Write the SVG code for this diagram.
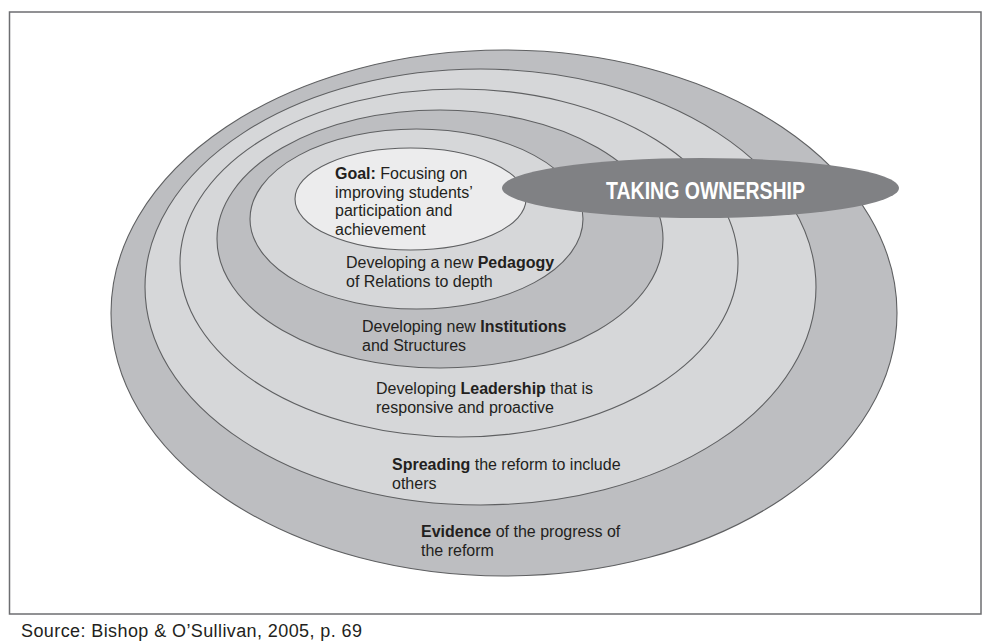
<svg xmlns="http://www.w3.org/2000/svg" width="991" height="644" viewBox="0 0 991 644">
  <style>
    .ring { stroke: #5f6062; stroke-width: 1.1; }
    .dark { fill: #bdbec1; }
    .light { fill: #d6d7d9; }
    .core { fill: #ececed; }
    .lbl { font-family: "Liberation Sans", Arial, sans-serif; font-size: 16px; fill: #231f20; }
    .b { font-weight: bold; }
    .own { font-family: "Liberation Sans Narrow", "Liberation Sans", Arial, sans-serif; font-size: 24px; font-weight: bold; fill: #ffffff; }
    .src { font-family: "Liberation Sans", Arial, sans-serif; font-size: 18px; fill: #231f20; }
  </style>

  <rect width="991" height="644" fill="#ffffff"/>

  <!-- figure frame -->
  <rect x="9.5" y="12" width="971.5" height="602" fill="none" stroke="#6d6e71" stroke-width="1.5"/>

  <g id="evidence">
    <ellipse class="ring dark" cx="504" cy="313" rx="393" ry="263"/>
    <text class="lbl" x="421" y="537"><tspan class="b">Evidence</tspan> of the progress of</text>
    <text class="lbl" x="421" y="555.5">the reform</text>
  </g>

  <g id="spreading">
    <ellipse class="ring light" cx="480.5" cy="287" rx="335.5" ry="218"/>
    <text class="lbl" x="392" y="470"><tspan class="b">Spreading</tspan> the reform to include</text>
    <text class="lbl" x="392" y="488.5">others</text>
  </g>

  <g id="leadership">
    <ellipse class="ring light" cx="459" cy="263" rx="279" ry="174"/>
    <text class="lbl" x="376" y="394"><tspan>Developing </tspan><tspan class="b">Leadership</tspan> that is</text>
    <text class="lbl" x="376" y="412.5">responsive and proactive</text>
  </g>

  <g id="institutions">
    <ellipse class="ring dark" cx="440" cy="239" rx="223" ry="129"/>
    <text class="lbl" x="362" y="332">Developing new <tspan class="b">Institutions</tspan></text>
    <text class="lbl" x="362" y="350.5">and Structures</text>
  </g>

  <g id="pedagogy">
    <ellipse class="ring light" cx="416.5" cy="219" rx="166.5" ry="90"/>
    <text class="lbl" x="346" y="268">Developing a new <tspan class="b">Pedagogy</tspan></text>
    <text class="lbl" x="346" y="286.5">of Relations to depth</text>
  </g>

  <g id="goal">
    <ellipse class="ring core" cx="410.5" cy="199" rx="115.5" ry="51"/>
    <text class="lbl" x="335" y="179"><tspan class="b">Goal:</tspan> Focusing on</text>
    <text class="lbl" x="335" y="197.5">improving students’</text>
    <text class="lbl" x="335" y="216">participation and</text>
    <text class="lbl" x="335" y="234.5">achievement</text>
  </g>

  <g id="taking-ownership">
    <ellipse cx="700.5" cy="188" rx="198.5" ry="30" fill="#808184"/>
    <text class="own" x="606" y="198.5" textLength="199" lengthAdjust="spacingAndGlyphs">TAKING OWNERSHIP</text>
  </g>

  <g id="connectors"/>

  <text class="src" x="21" y="637" textLength="341" lengthAdjust="spacing">Source: Bishop &amp; O’Sullivan, 2005, p. 69</text>
</svg>
